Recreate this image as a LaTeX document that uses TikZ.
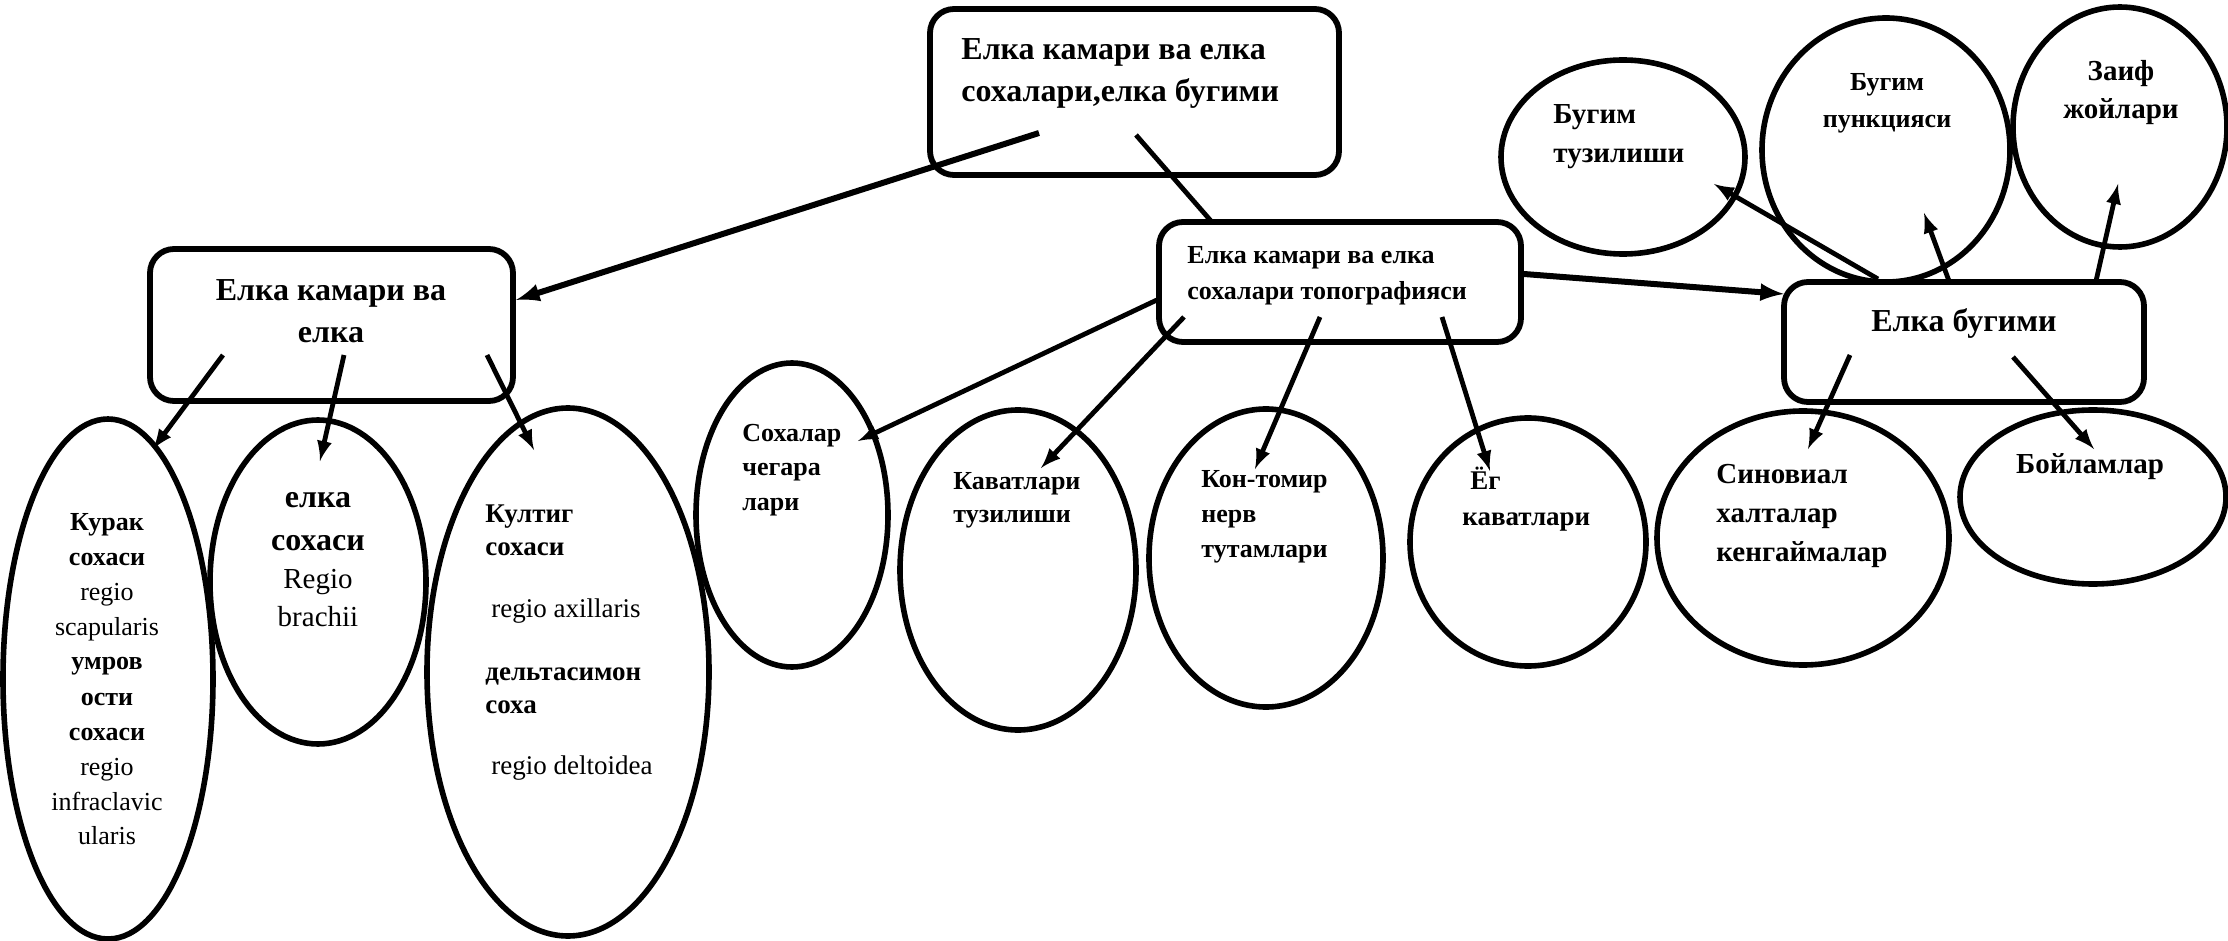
\documentclass[tikz,border=0pt]{standalone}
\usepackage{fontspec}
\setmainfont{Liberation Serif}
\usetikzlibrary{arrows, calc, shapes.geometric}
\newcommand{\cellrows}[2]{\begin{tabular}[t]{@{}#1@{}}#2\end{tabular}}
\tikzset{
    frame/.style={draw, line width=2.9pt, rounded corners=12pt, inner sep=0pt},
    oval/.style={draw, ellipse, line width=2.8pt, inner sep=0pt},
    words/.style={inner sep=0pt},
    link/.style={line width=2.4pt, -latex},
    biglink/.style={line width=3pt, -latex}
}

\begin{document}
\begin{tikzpicture}[x=0.5pt, y=-0.5pt]
            \useasboundingbox (0,0) rectangle (2228,941);

            % boxes
            \node[frame, minimum width=204.5pt, minimum height=83pt] (TopBox) at (1134.5,92) {};
            \node[frame, minimum width=181.5pt, minimum height=76pt] (GirdleBox) at (331.5,325) {};
            \node[frame, minimum width=181pt, minimum height=60pt] (TopoBox) at (1340,282) {};
            \node[frame, minimum width=180pt, minimum height=60pt] (JointBox) at (1964,342) {};

            \node[words, anchor=base west, font=\fontsize{16}{21}\selectfont\bfseries] (TopText) at (961,60) {\cellrows{l}{Елка камари ва елка\\ сохалари,елка бугими}};
            \node[words, anchor=base, font=\fontsize{16}{21}\selectfont\bfseries] (GirdleText) at (331,300) {\cellrows{c}{Елка камари ва\\ елка}};
            \node[words, anchor=base west, font=\fontsize{13}{17.5}\selectfont\bfseries] (TopoText) at (1187,264) {\cellrows{l}{Елка камари ва елка\\ сохалари топографияси}};
            \node[words, anchor=base, font=\fontsize{16}{21}\selectfont\bfseries] (JointText) at (1964,331) {Елка бугими};

            % ellipses
            \node[oval, minimum width=105pt, minimum height=260pt] (Kurak) at (108,679) {};
            \node[oval, minimum width=108pt, minimum height=162pt] (Yelka) at (318,582) {};
            \node[oval, minimum width=141pt, minimum height=264pt] (Kultig) at (568,672) {};
            \node[oval, minimum width=96pt, minimum height=152pt] (Chegara) at (792,515) {};
            \node[oval, minimum width=118pt, minimum height=160pt] (Qavat) at (1018,570) {};
            \node[oval, minimum width=117pt, minimum height=149pt] (QonTomir) at (1266,558) {};
            \node[oval, minimum width=118pt, minimum height=124pt] (Yog) at (1528,542) {};
            \node[oval, minimum width=122pt, minimum height=97pt] (Tuzilish) at (1623,157) {};
            \node[oval, minimum width=124pt, minimum height=132pt] (Punksiya) at (1886,150) {};
            \node[oval, minimum width=107pt, minimum height=120pt] (Zaif) at (2120,127) {};
            \node[oval, minimum width=146pt, minimum height=127pt] (Sinovial) at (1803,538) {};
            \node[oval, minimum width=133pt, minimum height=87pt] (Boylam) at (2093,497) {};

            \node[words, anchor=base, font=\fontsize{13}{17.5}\selectfont] (KurakText) at (107,530) {\cellrows{c}{\textbf{Курак}\\ \textbf{сохаси}\\ regio\\ scapularis\\ \textbf{умров}\\ \textbf{ости}\\ \textbf{сохаси}\\ regio\\ infraclavic\\ ularis}};
            \node[words, anchor=base, font=\fontsize{14.5}{19}\selectfont] (YelkaText) at (318,507) {\cellrows{c}{\fontsize{16}{19}\selectfont\bfseries елка\\[2.5pt] \fontsize{16}{19}\selectfont\bfseries сохаси\\ Regio\\ brachii}};
            \node[words, anchor=base west, font=\fontsize{13.5}{16.5}\selectfont] (KultigText) at (485,522) {\cellrows{l}{\textbf{Култиг}\\ \textbf{сохаси}\\[14.5pt] \hspace{3pt}regio axillaris\\[15pt] \textbf{дельтасимон}\\ \textbf{соха}\\[14pt] \hspace{3pt}regio deltoidea}};
            \node[words, anchor=base west, font=\fontsize{13}{17.25}\selectfont\bfseries] (ChegaraText) at (742,441) {\cellrows{l}{Сохалар\\ чегара\\ лари}};
            \node[words, anchor=base west, font=\fontsize{13}{16.5}\selectfont\bfseries] (QavatText) at (953,489) {\cellrows{l}{Каватлари\\ тузилиши}};
            \node[words, anchor=base west, font=\fontsize{13}{17.5}\selectfont\bfseries] (QonTomirText) at (1201,487) {\cellrows{l}{Кон-томир\\ нерв\\ тутамлари}};
            \node[words, anchor=base west, font=\fontsize{13.5}{18}\selectfont\bfseries] (YogText) at (1462,489) {\cellrows{l}{\hspace{4pt}Ёг\\ каватлари}};
            \node[words, anchor=base west, font=\fontsize{14.5}{19.5}\selectfont\bfseries] (TuzilishText) at (1553,124) {\cellrows{l}{Бугим\\ тузилиши}};
            \node[words, anchor=base, font=\fontsize{13}{18.5}\selectfont\bfseries] (PunksiyaText) at (1887,91) {\cellrows{c}{Бугим\\ пункцияси}};
            \node[words, anchor=base, font=\fontsize{14.5}{19}\selectfont\bfseries] (ZaifText) at (2121,81) {\cellrows{c}{Заиф\\ жойлари}};
            \node[words, anchor=base west, font=\fontsize{14.5}{19.5}\selectfont\bfseries] (SinovialText) at (1716,483) {\cellrows{l}{Синовиал\\ халталар\\ кенгаймалар}};
            \node[words, anchor=base, font=\fontsize{14.5}{19}\selectfont\bfseries] (BoylamText) at (2090,473) {Бойламлар};

            % connector ends
            \coordinate (TopOutL) at (1039,133);
            \coordinate (TopOutR) at (1136,135);
            \coordinate (GirdleIn) at (516,300);
            \coordinate (TopoIn) at (1211,221);
            \coordinate (GirdleOut1) at (223,355);
            \coordinate (GirdleOut2) at (344,355);
            \coordinate (GirdleOut3) at (487,355);
            \coordinate (KurakIn) at (153,449);
            \coordinate (YelkaIn) at (320,461);
            \coordinate (KultigIn) at (534,450);
            \coordinate (TopoOut1) at (1159,299);
            \coordinate (TopoOut2) at (1184,317);
            \coordinate (TopoOut3) at (1320,317);
            \coordinate (TopoOut4) at (1442,317);
            \coordinate (TopoOut5) at (1524,274);
            \coordinate (ChegaraIn) at (858,441);
            \coordinate (QavatIn) at (1041,468);
            \coordinate (QonTomirIn) at (1255,469);
            \coordinate (YogIn) at (1490,471);
            \coordinate (JointIn) at (1784,294);
            \coordinate (JointOut1) at (1878,279);
            \coordinate (JointOut2) at (1949,281);
            \coordinate (JointOut3) at (2096,281);
            \coordinate (JointOut4) at (1850,355);
            \coordinate (JointOut5) at (2013,357);
            \coordinate (TuzilishIn) at (1714,184);
            \coordinate (PunksiyaIn) at (1924,213);
            \coordinate (ZaifIn) at (2118,184);
            \coordinate (SinovialIn) at (1808,449);
            \coordinate (BoylamIn) at (2094,449);

            \draw [biglink] (TopOutL) -- (GirdleIn);% to the girdle box
            \draw [line width=2.4pt] (TopOutR) -- (TopoIn);% plain line, no tip
            \draw [link] (GirdleOut1) -- (KurakIn);
            \draw [link] (GirdleOut2) -- (YelkaIn);
            \draw [link] (GirdleOut3) -- (KultigIn);
            \draw [link] (TopoOut1) -- (ChegaraIn);
            \draw [link] (TopoOut2) -- (QavatIn);
            \draw [link] (TopoOut3) -- (QonTomirIn);
            \draw [link] (TopoOut4) -- (YogIn);
            \draw [biglink] (TopoOut5) -- (JointIn);% to the joint box
            \draw [link] (JointOut1) -- (TuzilishIn);
            \draw [link] (JointOut2) -- (PunksiyaIn);
            \draw [link] (JointOut3) -- (ZaifIn);
            \draw [link] (JointOut4) -- (SinovialIn);
            \draw [link] (JointOut5) -- (BoylamIn);
\end{tikzpicture}
\end{document}
